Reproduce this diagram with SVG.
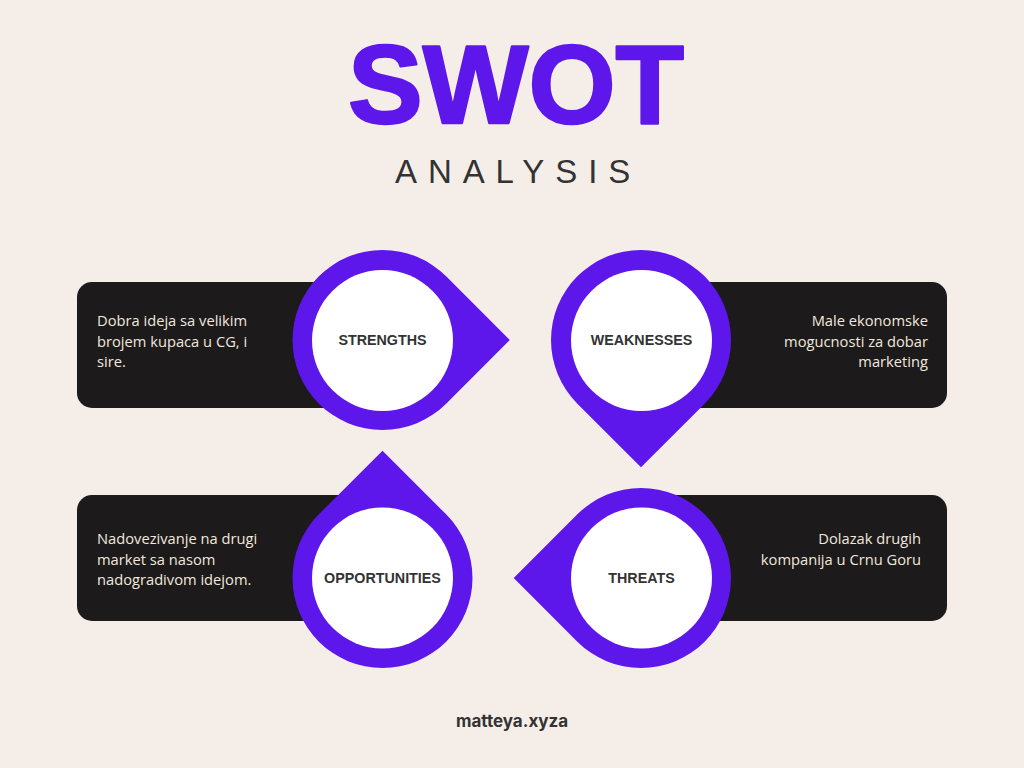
<svg xmlns="http://www.w3.org/2000/svg" xmlns:xlink="http://www.w3.org/1999/xlink" width="1024" height="768" viewBox="0 0 1024 768">
  <style>
    .card { fill: #1c1a1b; }
    .drop { fill: #5e17eb; }
    .disc { fill: #ffffff; }
    .label { font-family: "Liberation Sans", Arial, sans-serif; font-weight: bold; font-size: 14.3px; fill: #333333; text-anchor: middle; }
    .body { font-family: "Open Sans", "Liberation Sans", sans-serif; font-size: 14.7px; fill: #f1e7dd; }
    .right { text-anchor: end; }
  </style>
  <defs>
    <!-- teardrop: circle r=90 with a sharp tip pointing along +x -->
    <path id="drop" d="M 63.64 -63.64 L 127.28 0 L 63.64 63.64 A 90 90 0 1 1 63.64 -63.64 Z"/>
  </defs>

  <rect width="1024" height="768" fill="#f5eee8"/>

  <!-- heading -->
  <g id="title">
    <text x="516" y="123" text-anchor="middle" font-family="'Liberation Sans', Arial, sans-serif" font-weight="bold" font-size="112" fill="#5e17eb" stroke="#5e17eb" stroke-width="2.5" stroke-linejoin="round">SWOT</text>
    <text x="395" y="183" font-family="'Liberation Sans', Arial, sans-serif" font-size="33" letter-spacing="10.9" fill="#333333">ANALYSIS</text>
  </g>

  <!-- Strengths -->
  <g id="strengths">
    <rect class="card" x="77" y="282" width="320" height="126" rx="15"/>
    <use xlink:href="#drop" class="drop" transform="translate(382.5,340)"/>
    <circle class="disc" cx="382.5" cy="340.5" r="70.5"/>
    <text class="label" x="382.5" y="345">STRENGTHS</text>
    <text class="body" x="97" y="326">Dobra ideja sa velikim</text>
    <text class="body" x="97" y="346.5">brojem kupaca u CG, i</text>
    <text class="body" x="97" y="367">sire.</text>
  </g>

  <!-- Weaknesses -->
  <g id="weaknesses">
    <rect class="card" x="627" y="282" width="320" height="126" rx="15"/>
    <use xlink:href="#drop" class="drop" transform="translate(641,340) rotate(90)"/>
    <circle class="disc" cx="641.5" cy="340.5" r="70.5"/>
    <text class="label" x="641.5" y="345">WEAKNESSES</text>
    <text class="body right" x="928" y="326">Male ekonomske</text>
    <text class="body right" x="928" y="346.5">mogucnosti za dobar</text>
    <text class="body right" x="928" y="367">marketing</text>
  </g>

  <!-- Opportunities -->
  <g id="opportunities">
    <rect class="card" x="77" y="495" width="320" height="126" rx="15"/>
    <use xlink:href="#drop" class="drop" transform="translate(382.5,578) rotate(-90)"/>
    <circle class="disc" cx="382.5" cy="578" r="70.5"/>
    <text class="label" x="382.5" y="583">OPPORTUNITIES</text>
    <text class="body" x="97" y="544">Nadovezivanje na drugi</text>
    <text class="body" x="97" y="564.5">market sa nasom</text>
    <text class="body" x="97" y="585">nadogradivom idejom.</text>
  </g>

  <!-- Threats -->
  <g id="threats">
    <rect class="card" x="627" y="495" width="320" height="126" rx="15"/>
    <use xlink:href="#drop" class="drop" transform="translate(641,578) rotate(180)"/>
    <circle class="disc" cx="641.5" cy="578" r="70.5"/>
    <text class="label" x="641.5" y="583">THREATS</text>
    <text class="body right" x="921" y="544">Dolazak drugih</text>
    <text class="body right" x="921" y="564.5">kompanija u Crnu Goru</text>
  </g>

  <!-- footer -->
  <g id="footer">
    <text x="512" y="727" text-anchor="middle" font-family="Inter, 'Liberation Sans', sans-serif" font-weight="bold" font-size="17" fill="#333333">matteya.xyza</text>
  </g>
</svg>
